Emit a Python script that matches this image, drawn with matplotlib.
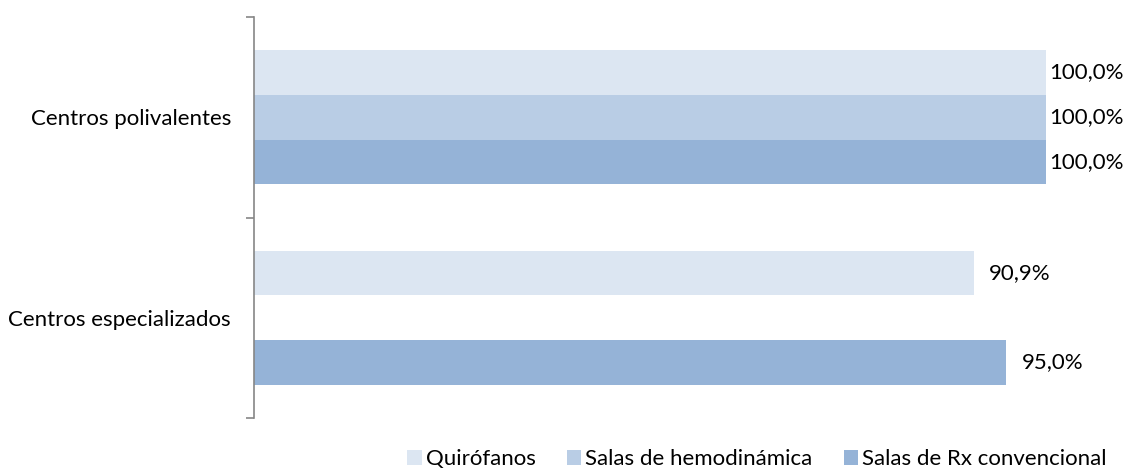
import numpy as np
import matplotlib.pyplot as plt

plt.rcParams['font.family'] = ['Lato', 'DejaVu Sans']

# datos
categorias = ["Centros polivalentes", "Centros especializados"]
series = ["Quirófanos", "Salas de hemodinámica", "Salas de Rx convencional"]
quirofanos = [100.0, 90.9]
hemodinamica = [100.0, np.nan]
rx_convencional = [100.0, 95.0]
colores = ["#DCE6F2", "#B9CDE5", "#95B3D7"]

valores = [quirofanos, hemodinamica, rx_convencional]

fig = plt.figure(figsize=(11.27, 4.71), dpi=100)
ax = fig.add_axes([254 / 1127, 53 / 471, 792 / 1127, 401 / 471])

y = np.arange(len(categorias))
h = 0.223
for j, (nombre, vals, col) in enumerate(zip(series, valores, colores)):
    pos = y + (j - 1) * h
    v = np.nan_to_num(np.array(vals, dtype=float))
    ax.barh(pos, v, height=h, color=col, label=nombre, linewidth=0)
    for i, val in enumerate(vals):
        if np.isnan(val):
            continue
        # excel pone las etiquetas de abajo mas separadas
        off = 2 if i == 0 else 11
        ax.annotate(f"{val:.1f}%".replace(".", ","), (val, pos[i]),
                    xytext=(off, 0), textcoords="offset points",
                    ha="left", va="center", fontsize=16, clip_on=False)

ax.set_xlim(0, 100)
ax.set_ylim(1.5, -0.5)
ax.set_xticks([])
ax.set_yticks(y)
ax.set_yticklabels(categorias, fontsize=16)
ax.set_yticks([-0.5, 0.5, 1.5], minor=True)
ax.tick_params(axis="y", which="major", length=0, pad=16.5)
ax.tick_params(axis="y", which="minor", length=6, color="#868686", width=1.2)
for s in ["top", "right", "bottom"]:
    ax.spines[s].set_visible(False)
ax.spines["left"].set_color("#868686")
ax.spines["left"].set_linewidth(1.2)

fig.legend(loc="center", bbox_to_anchor=(757 / 1127, 1 - 459 / 471), ncol=3,
           frameon=False, fontsize=16, handlelength=0.65, handleheight=0.65,
           handletextpad=0.18, columnspacing=1.4, borderpad=0)

fig.savefig("out.png", dpi=100)
